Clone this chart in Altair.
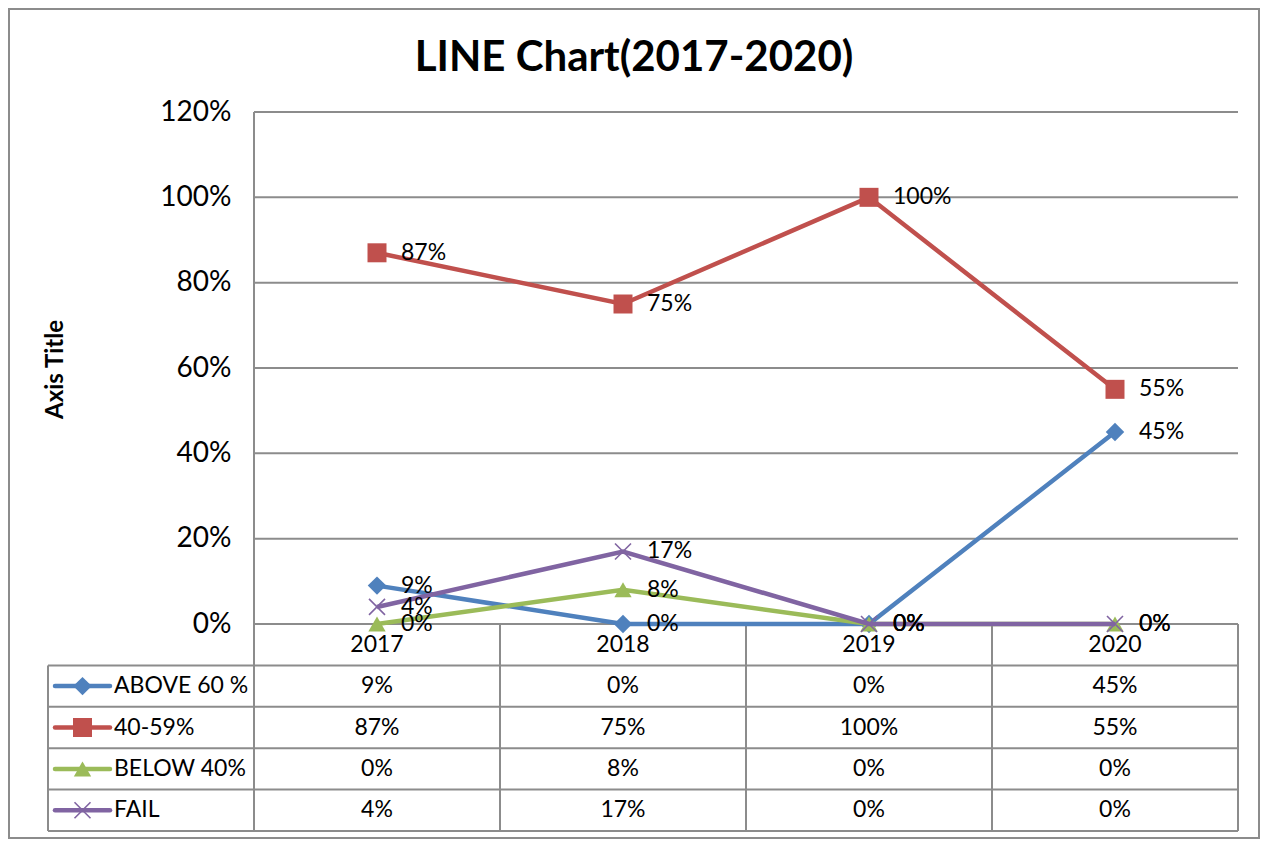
import altair as alt
import pandas as pd

# ---------------- data ----------------
years = ["2017", "2018", "2019", "2020"]
series_names = ["ABOVE 60 %", "40-59%", "BELOW 40%", "FAIL"]
above_60 = [0.09, 0.00, 0.00, 0.45]
band_40_59 = [0.87, 0.75, 1.00, 0.55]
below_40 = [0.00, 0.08, 0.00, 0.00]
fail = [0.04, 0.17, 0.00, 0.00]
y_ticks = [0.0, 0.2, 0.4, 0.6, 0.8, 1.0, 1.2]
title_text = "LINE Chart(2017-2020)"
y_title = "Axis Title"

series_values = [above_60, band_40_59, below_40, fail]

# ---------------- style ----------------
FONT = "Lato"
colors = ["#4F81BD", "#C0504D", "#9BBB59", "#8064A2"]
X_PATH = "M-1,-1L1,1M-1,1L1,-1"
shapes = ["diamond", "square", "triangle-up", X_PATH]
marker_sizes = [340, 361, 300, 256]
filled = [True, True, True, False]
GRID = "#8c8c8c"

# ---------------- layout (pixels inside the framed view) ----------------
W, H = 1250, 829
COL_PX = 246.0          # width of one category column
PLOT_X0 = 245.0         # left edge of the plot area
ZERO_PX = 615.0         # y pixel of 0%
UNIT_PX = 512.0 / 1.2   # pixels per 100%
ROW_PX = 41.4           # data-table row height
LEG_PX = 206.0          # legend column width

x_dom = [-PLOT_X0 / COL_PX, (W - PLOT_X0) / COL_PX]
y_dom = [(ZERO_PX - H) / UNIT_PX, ZERO_PX / UNIT_PX]
row_h = ROW_PX / UNIT_PX
leg_x0 = -LEG_PX / COL_PX
sym_a = -199.0 / COL_PX
sym_b = -144.0 / COL_PX
sym_c = -171.5 / COL_PX
leg_txt = -140.0 / COL_PX
n_rows = len(series_names) + 1

xscale = alt.Scale(domain=x_dom, nice=False, zero=False)
yscale = alt.Scale(domain=y_dom, nice=False, zero=False)
yaxis = alt.Axis(
    values=y_ticks, format=".0%", grid=False, domain=False, ticks=False,
    offset=-PLOT_X0, labelFont=FONT, labelFontSize=28, labelColor="black",
    labelPadding=23, title=y_title, titleFont=FONT, titleFontSize=24,
    titleFontWeight="bold", titleColor="black", titleAngle=270,
    titleX=-199, titleY=360, titleAlign="center", titleBaseline="middle",
)


def X(f="xc"):
    return alt.X(f"{f}:Q", scale=xscale, axis=None)


def Y(f="v"):
    return alt.Y(f"{f}:Q", scale=yscale, axis=yaxis)


# structural lines: gridlines, value axis line, data-table grid
lines = []
for t in y_ticks:
    lines.append(dict(xc=0, xc2=len(years), v=t, v2=t))
lines.append(dict(xc=0, xc2=0, v=y_ticks[-1], v2=-n_rows * row_h))
for i in range(1, len(years) + 1):
    lines.append(dict(xc=i, xc2=i, v=0, v2=-n_rows * row_h))
lines.append(dict(xc=leg_x0, xc2=leg_x0, v=-row_h, v2=-n_rows * row_h))
for k in range(1, n_rows + 1):
    lines.append(dict(xc=leg_x0, xc2=len(years), v=-k * row_h, v2=-k * row_h))
lines_df = pd.DataFrame(lines)

grid_layer = alt.Chart(lines_df).mark_rule(color=GRID, strokeWidth=2).encode(
    x=X(), x2="xc2:Q", y=Y(), y2="v2:Q"
)

layers = [grid_layer]

# series lines + markers
pts = []
for s, name in enumerate(series_names):
    for i, yr in enumerate(years):
        val = series_values[s][i]
        pts.append(dict(series=name, year=yr, xc=i + 0.5, v=val,
                        label=f"{round(val * 100)}%", k=s + 1))
pts_df = pd.DataFrame(pts)

for s, name in enumerate(series_names):
    d = pts_df[pts_df.series == name]
    layers.append(alt.Chart(d).mark_line(color=colors[s], strokeWidth=4.5).encode(x=X(), y=Y()))
    layers.append(alt.Chart(d).mark_point(
        shape=shapes[s], size=marker_sizes[s], filled=filled[s], color=colors[s],
        opacity=1, strokeWidth=1.6).encode(x=X(), y=Y()))

# data labels
layers.append(alt.Chart(pts_df).mark_text(
    align="left", baseline="middle", dx=24, font=FONT, fontSize=23, color="black"
).encode(x=X(), y=Y(), text="label:N"))

# data table: header row (years) and value cells
hdr_df = pd.DataFrame([dict(xc=i + 0.5, v=-0.5 * row_h, label=yr) for i, yr in enumerate(years)])
layers.append(alt.Chart(hdr_df).mark_text(
    align="center", baseline="middle", font=FONT, fontSize=23, color="black"
).encode(x=X(), y=Y(), text="label:N"))

cells_df = pts_df.assign(v=lambda d: -(d.k + 0.5) * row_h)
layers.append(alt.Chart(cells_df).mark_text(
    align="center", baseline="middle", font=FONT, fontSize=23, color="black"
).encode(x=X(), y=Y(), text="label:N"))

# legend column of the data table
leg_df = pd.DataFrame([dict(series=n, v=-(s + 1.5) * row_h, xa=sym_a, xb=sym_b,
                            xm=sym_c, xt=leg_txt) for s, n in enumerate(series_names)])
for s, name in enumerate(series_names):
    d = leg_df[leg_df.series == name]
    layers.append(alt.Chart(d).mark_rule(color=colors[s], strokeWidth=4.5, strokeCap="round").encode(
        x=X("xa"), x2="xb:Q", y=Y()))
    layers.append(alt.Chart(d).mark_point(
        shape=shapes[s], size=marker_sizes[s], filled=filled[s], color=colors[s],
        opacity=1, strokeWidth=1.6).encode(x=X("xm"), y=Y()))
layers.append(alt.Chart(leg_df).mark_text(
    align="left", baseline="middle", font=FONT, fontSize=23, color="black"
).encode(x=X("xt"), y=Y(), text="series:N"))

chart = alt.layer(*layers).properties(
    width=W, height=H,
    autosize=alt.AutoSizeParams(type="none"),
    padding=1,
    title=alt.TitleParams(title_text, font=FONT, fontSize=42, fontWeight="bold",
                          color="black", anchor="middle", frame="group", offset=0,
                          baseline="alphabetic", dy=104),
).configure_view(stroke="#8c8c8c", strokeWidth=2)

chart.save("out.html", embed_options={"renderer": "svg", "actions": False})
